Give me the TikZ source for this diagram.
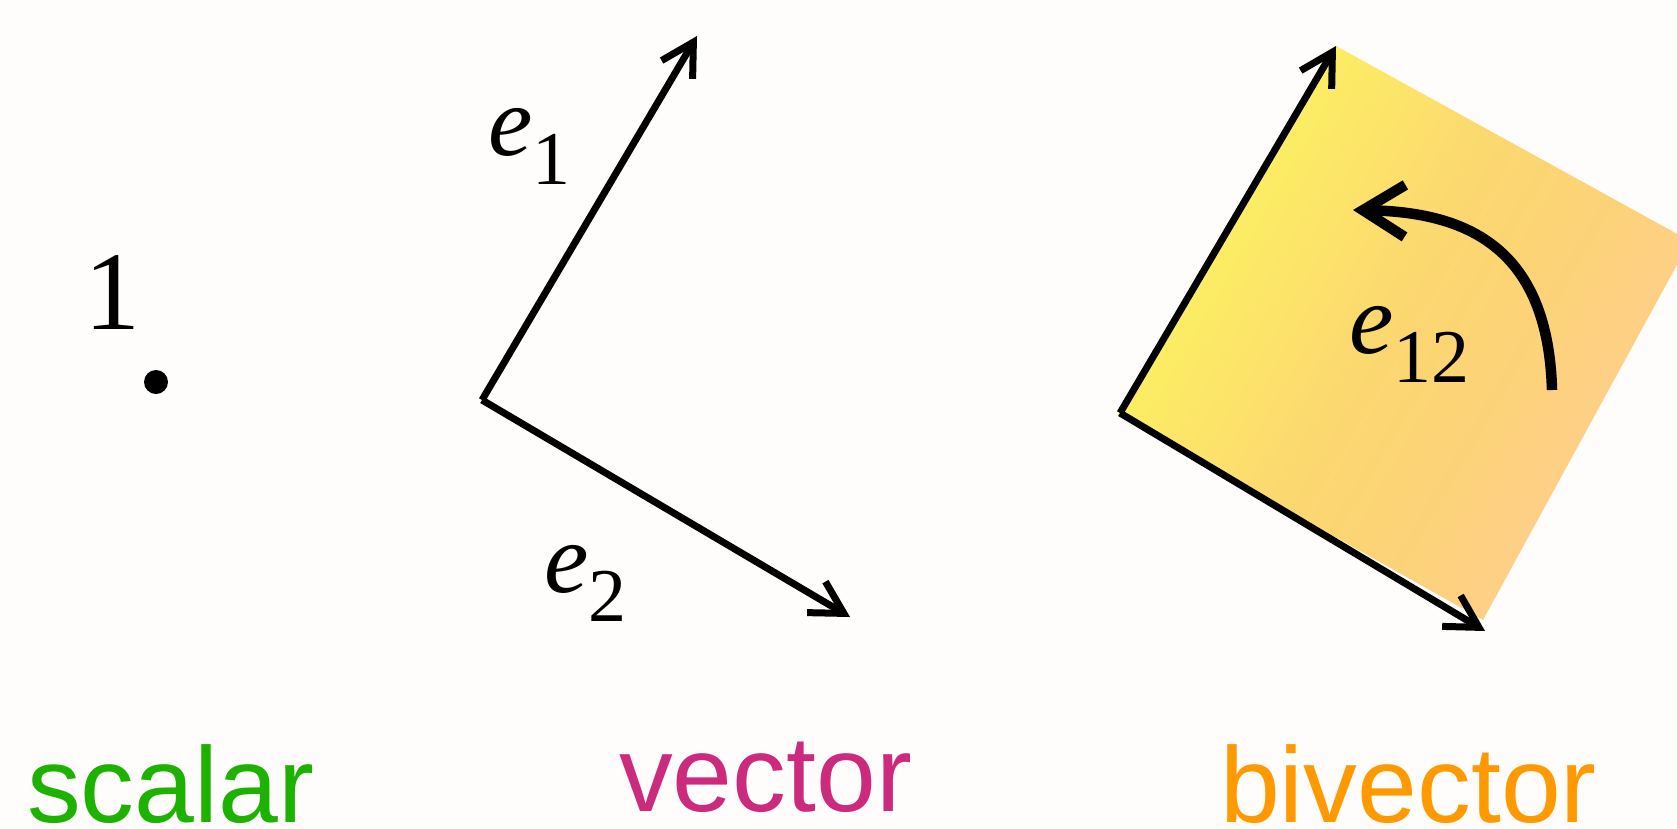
\documentclass[tikz,border=0pt]{standalone}
\usepackage{fontspec}
\setmainfont{Liberation Serif}
\newfontfamily\labelfont{Liberation Sans}
\usetikzlibrary{arrows.meta}
\definecolor{bg}{RGB}{254,253,251}
\definecolor{scalarc}{RGB}{30,178,0}
\definecolor{vectorc}{RGB}{204,42,124}
\definecolor{bivectorc}{RGB}{255,153,0}
\pgfdeclarehorizontalshading{bishade}{100bp}{%
  rgb(0bp)=(0.988,0.973,0.373);
  rgb(25bp)=(0.988,0.973,0.373);
  rgb(33bp)=(0.988,0.925,0.392);
  rgb(48bp)=(0.988,0.847,0.439);
  rgb(58bp)=(0.988,0.827,0.463);
  rgb(70bp)=(0.996,0.812,0.537);
  rgb(100bp)=(0.996,0.812,0.549)}
\tikzset{
  vecarrow/.style={line width=7pt, -{Straight Barb[length=32pt,width=36pt,sharp]}},
  rotarrow/.style={line width=10.5pt, -{Straight Barb[length=42pt,width=52pt,sharp]}},
  mathlabel/.style={anchor=base west, inner sep=0pt, font=\fontsize{100}{100}\selectfont},
  namelabel/.style={anchor=base west, inner sep=0pt, text depth=0pt, font=\labelfont\fontsize{107.5}{110}\selectfont},
}
\newcommand\subsc[1]{\raisebox{-29pt}{\fontsize{76}{76}\selectfont #1}}

\begin{document}
\begin{tikzpicture}[x=1pt,y=-1pt]
\fill[bg] (0,0) rectangle (1677,828);
\useasboundingbox (0,0) rectangle (1677,828);

% scalar
\node[anchor=base west, inner sep=0pt, font=\fontsize{112}{112}\selectfont] (one) at (84,329) {1};
\node[circle, fill=black, inner sep=0pt, minimum size=24pt] (dot) at (156,382) {};

% vector
\coordinate (v0) at (482,400);
\coordinate (v1) at (697,36);
\coordinate (v2) at (850,617);
\draw[vecarrow] (v0) -- (v1);
\draw[vecarrow] (v0) -- (v2);
\node[mathlabel] (le1) at (488,155) {\textit{e}\subsc{1}};
\node[mathlabel] (le2) at (544,592) {\textit{e}\subsc{2}};

% bivector
\coordinate (bL) at (1118,415);
\coordinate (bT) at (1336,46);
\coordinate (bP) at (1690,241);
\coordinate (bB) at (1483,620);
\begin{scope}
  \clip (0,0) rectangle (1677,828);
  \shade[shading=bishade, shading angle=-30]
    (bL) -- (bT) -- (bP) -- (bB) -- cycle;
\end{scope}
\coordinate (b0) at (1120,413);
\coordinate (b1) at (1336,46);
\coordinate (b2) at (1485,631);
\draw[vecarrow] (b0) -- (b1);
\draw[vecarrow] (b0) -- (b2);
\coordinate (c0) at (1552,390);
\coordinate (c1) at (1353,210);
\draw[rotarrow] (c0) .. controls (1548,250) and (1470,212) .. (c1);
\node[mathlabel] (le12) at (1349,353) {\textit{e}\subsc{12}};

% names
\node[namelabel, text=scalarc] (nscalar) at (27,822) {scalar};
\node[namelabel, text=vectorc] (nvector) at (619,811) {vector};
\node[namelabel, text=bivectorc] (nbivector) at (1220,822) {bivector};
\end{tikzpicture}
\end{document}
